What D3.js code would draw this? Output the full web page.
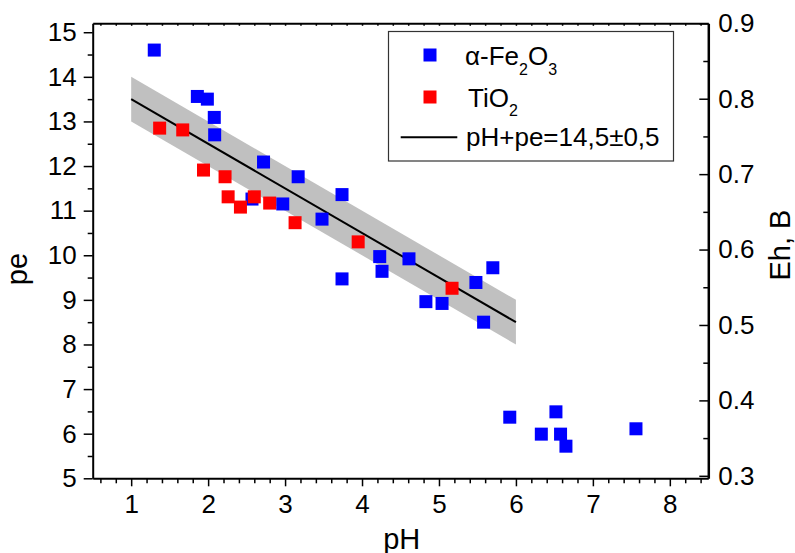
<!DOCTYPE html>
<html>
<head>
<meta charset="utf-8">
<script src="https://cdn.jsdelivr.net/npm/d3@7/dist/d3.min.js"></script>
<style>
  body { margin: 0; background: #fff; }
  svg { display: block; }
  text { font-family: Arial, "Liberation Sans", sans-serif; fill: #000; }
</style>
</head>
<body>
<svg id="chart" width="795" height="553"></svg>
<script>
// ---- Data ----
const feX = [1.30, 1.86, 1.99, 2.08, 2.085, 2.57, 2.72, 2.97, 3.17, 3.48, 3.74, 3.74, 4.23, 4.26, 4.61, 4.83, 5.04, 5.48, 5.58, 5.70, 5.92, 6.33, 6.52, 6.58, 6.65, 7.56];
const feY = [14.60, 13.56, 13.50, 13.09, 12.70, 11.26, 12.09, 11.15, 11.76, 10.81, 11.36, 9.47, 9.97, 9.64, 9.92, 8.96, 8.92, 9.39, 8.50, 9.72, 6.37, 5.99, 6.49, 5.99, 5.72, 6.11];
const tiX = [1.37, 1.67, 1.94, 2.22, 2.26, 2.42, 2.60, 2.80, 3.13, 3.95, 5.17];
const tiY = [12.85, 12.81, 11.91, 11.76, 11.31, 11.08, 11.31, 11.17, 10.73, 10.30, 9.26];
const fitX = [1, 6];
const fitY = [13.5, 8.5];
const fitLow = [13.0, 8.0];
const fitHigh = [14.0, 9.0];
const xTicks = [1, 2, 3, 4, 5, 6, 7, 8];
const yTicks = [5, 6, 7, 8, 9, 10, 11, 12, 13, 14, 15];
const ehTicks = [0.3, 0.4, 0.5, 0.6, 0.7, 0.8, 0.9];

const svg = d3.select("#chart");
const L = 92.7, R = 708.3, T = 23.3, B = 478.3;
const FS = 26, TFS = 29;

const x = d3.scaleLinear().domain([0.5, 8.5]).range([L, R]);
const y = d3.scaleLinear().domain([5, 15.2]).range([B, T]);
const yR = d3.scaleLinear().domain([0.2967, 0.9]).range([B, T]);

// band
const bandData = fitX.map((v, i) => ({x: v, lo: fitLow[i], hi: fitHigh[i]}));
svg.append("path").datum(bandData)
  .attr("fill", "#c0c0c0")
  .attr("d", d3.area().x(d => x(d.x)).y0(d => y(d.lo)).y1(d => y(d.hi)));
// fit line
svg.append("path").datum(fitX.map((v, i) => [v, fitY[i]]))
  .attr("fill", "none").attr("stroke", "#000").attr("stroke-width", 2)
  .attr("d", d3.line().x(d => x(d[0])).y(d => y(d[1])));

// markers
const MS = 13;
function drawPts(xs, ys, color) {
  svg.append("g").selectAll("rect").data(xs.map((v, i) => [v, ys[i]])).join("rect")
    .attr("x", d => x(d[0]) - MS / 2).attr("y", d => y(d[1]) - MS / 2)
    .attr("width", MS).attr("height", MS).attr("fill", color);
}
drawPts(feX, feY, "#0000ff");
drawPts(tiX, tiY, "#ff0000");

// minor tick arrays
const xMinor = d3.range(0.6, 8.45, 0.2).map(v => +v.toFixed(2)).filter(v => Math.abs(v - Math.round(v)) > 1e-6);
const yMinor = d3.range(5.5, 15.2, 1);
const ehMinor = [0.35, 0.45, 0.55, 0.65, 0.75, 0.85];
const xAll = d3.range(0.6, 8.45, 0.2).map(v => +v.toFixed(2));

function styleAxis(g, sw) {
  g.selectAll("path.domain").attr("stroke", "#000").attr("stroke-width", sw);
  g.selectAll(".tick line").attr("stroke", "#000").attr("stroke-width", 1.5);
  g.selectAll("text").attr("font-size", FS).attr("font-family", "Arial, 'Liberation Sans', sans-serif");
}

// bottom axis
const gb = svg.append("g").attr("transform", `translate(0,${B})`)
  .call(d3.axisBottom(x).tickValues(xTicks).tickSize(8).tickSizeOuter(0).tickPadding(8).tickFormat(d3.format("d")));
styleAxis(gb, 2);
const gbm = svg.append("g").attr("transform", `translate(0,${B})`)
  .call(d3.axisBottom(x).tickValues(xMinor).tickSize(5).tickFormat(""));
gbm.select(".domain").remove(); styleAxis(gbm, 0);

// top axis
const gt = svg.append("g").attr("transform", `translate(0,${T})`)
  .call(d3.axisTop(x).tickValues(xAll).tickSize(-2.5).tickSizeOuter(0).tickFormat(""));
styleAxis(gt, 2);

// left axis
const gl = svg.append("g").attr("transform", `translate(${L},0)`)
  .call(d3.axisLeft(y).tickValues(yTicks).tickSize(9).tickSizeOuter(0).tickPadding(7).tickFormat(d3.format("d")));
styleAxis(gl, 2);
const glm = svg.append("g").attr("transform", `translate(${L},0)`)
  .call(d3.axisLeft(y).tickValues(yMinor).tickSize(5).tickFormat(""));
glm.select(".domain").remove(); styleAxis(glm, 0);

// right axis (ticks inward)
const gr = svg.append("g").attr("transform", `translate(${R},0)`)
  .call(d3.axisRight(yR).tickValues(ehTicks).tickSize(-9).tickSizeOuter(0).tickPadding(10).tickFormat(d3.format(".1f")));
styleAxis(gr, 2.5);
const grm = svg.append("g").attr("transform", `translate(${R},0)`)
  .call(d3.axisRight(yR).tickValues(ehMinor).tickSize(-5).tickFormat(""));
grm.select(".domain").remove(); styleAxis(grm, 0);

// axis titles
svg.append("text").attr("x", 401.7).attr("y", 548.5).attr("text-anchor", "middle").attr("font-size", TFS).text("pH");
svg.append("text").attr("transform", "translate(27,269) rotate(-90)").attr("text-anchor", "middle").attr("font-size", TFS).text("pe");
svg.append("text").attr("transform", "translate(790,245) rotate(-90)").attr("text-anchor", "middle").attr("font-size", TFS).text("Eh, B");

// legend
const lg = svg.append("g");
lg.append("rect").attr("x", 388.5).attr("y", 31.5).attr("width", 285).attr("height", 129.5)
  .attr("fill", "#fff").attr("stroke", "#333").attr("stroke-width", 1.2);
lg.append("rect").attr("x", 430 - MS / 2).attr("y", 55 - MS / 2).attr("width", MS).attr("height", MS).attr("fill", "#0000ff");
lg.append("rect").attr("x", 430 - MS / 2).attr("y", 97 - MS / 2).attr("width", MS).attr("height", MS).attr("fill", "#ff0000");
lg.append("line").attr("x1", 400.7).attr("x2", 457.3).attr("y1", 137.3).attr("y2", 137.3).attr("stroke", "#000").attr("stroke-width", 2);
const t1 = lg.append("text").attr("x", 465).attr("y", 64.5).attr("font-size", FS);
t1.append("tspan").text("α-Fe");
t1.append("tspan").attr("font-size", 16).attr("dy", 10).text("2");
t1.append("tspan").attr("dy", -10).text("O");
t1.append("tspan").attr("font-size", 16).attr("dy", 10).text("3");
const t2 = lg.append("text").attr("x", 468).attr("y", 106.5).attr("font-size", FS);
t2.append("tspan").text("TiO");
t2.append("tspan").attr("font-size", 16).attr("dy", 9).text("2");
lg.append("text").attr("x", 466).attr("y", 146).attr("font-size", FS).text("pH+pe=14,5±0,5");
</script>
</body>
</html>
